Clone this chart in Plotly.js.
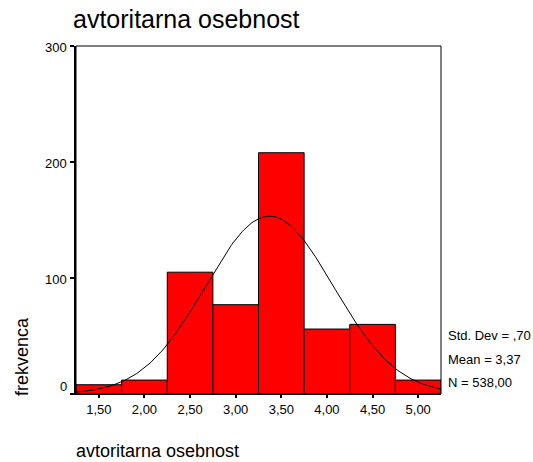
<!DOCTYPE html>
<html>
<head>
<meta charset="utf-8">
<script src="https://cdn.plot.ly/plotly-3.0.1.min.js"></script>
<style>html,body{margin:0;padding:0;background:#fff;}#chart{width:533px;height:462px;}</style>
</head>
<body>
<div id="chart"></div>
<script>
// Data
const binCenters = [1.5, 2.0, 2.5, 3.0, 3.5, 4.0, 4.5, 5.0];
const binCounts  = [8, 12, 105, 77, 208, 56, 60, 12];
const binWidth = 0.5;
const xTickVals = [1.5, 2.0, 2.5, 3.0, 3.5, 4.0, 4.5, 5.0];
const xTickText = ["1,50", "2,00", "2,50", "3,00", "3,50", "4,00", "4,50", "5,00"];
const yTickVals = [0, 100, 200, 300];
const yTickText = ["0", "100", "200", "300"];
const statMean = 3.37;
const statStd = 0.70;
const statN = 538;
const statLabels = ["Std. Dev = ,70", "Mean = 3,37", "N = 538,00"];
const chartTitle = "avtoritarna osebnost";
const xTitle = "avtoritarna osebnost";
const yTitle = "frekvenca";

// Fitted normal curve from the displayed statistics
const curveX = [], curveY = [];
for (let i = 0; i <= 200; i++) {
  const x = 1.25 + i * 0.02;
  const z = (x - statMean) / statStd;
  curveX.push(x);
  curveY.push(statN * binWidth / (statStd * Math.sqrt(2 * Math.PI)) * Math.exp(-0.5 * z * z));
}

const font = "Liberation Sans, Arial, sans-serif";
const traces = [
  {type: 'bar', x: binCenters, y: binCounts, width: binWidth,
   marker: {color: '#ff0000', line: {color: '#000000', width: 1}}, hoverinfo: 'skip'},
  {type: 'scatter', mode: 'lines', x: curveX, y: curveY,
   line: {color: '#000000', width: 1}, hoverinfo: 'skip'}
];

const L = 76, R = 92, T = 46, B = 68, W = 533, H = 462;
const pw = W - L - R, ph = H - T - B;
const annotations = [
  {text: xTitle, xref: 'paper', yref: 'paper', x: (74 - L) / pw, y: -(451 - (H - B)) / ph,
   xanchor: 'left', yanchor: 'middle', showarrow: false, font: {family: font, size: 18, color: '#000'}},
  {text: yTitle, xref: 'paper', yref: 'paper', x: (22 - L) / pw, y: 1 - (357 - T) / ph,
   xanchor: 'center', yanchor: 'middle', textangle: -90, showarrow: false, font: {family: font, size: 18, color: '#000'}}
];
const statY = [335, 359, 382];
statLabels.forEach((s, i) => annotations.push({
  text: s, xref: 'paper', yref: 'paper', x: (446 - L) / pw, y: 1 - (statY[i] - T) / ph,
  xanchor: 'left', yanchor: 'middle', showarrow: false, font: {family: font, size: 13, color: '#000'}
}));
// y tick labels (the zero label sits slightly above its tick, as in the reference)
yTickVals.forEach((v, i) => annotations.push({
  text: yTickText[i], xref: 'paper', yref: 'y', x: 0, y: v, xanchor: 'right', yanchor: 'middle',
  xshift: -7, yshift: v === 0 ? 8 : -1, showarrow: false, font: {family: font, size: 13, color: '#000'}
}));

const layout = {
  width: W, height: H,
  margin: {l: L, r: R, t: T, b: B},
  paper_bgcolor: '#ffffff', plot_bgcolor: '#ffffff',
  showlegend: false, bargap: 0,
  font: {family: font, size: 13, color: '#000'},
  title: {text: chartTitle, x: 73 / W, xanchor: 'left', xref: 'container',
          y: 1 - 19 / H, yanchor: 'middle', yref: 'container',
          font: {family: font, size: 25, color: '#000'}},
  xaxis: {range: [1.25, 5.25], tickvals: xTickVals, ticktext: xTickText,
          ticks: 'outside', ticklen: 3, tickwidth: 2, tickcolor: '#000',
          showline: true, linecolor: '#000', linewidth: 1, showgrid: false, zeroline: false,
          tickfont: {family: font, size: 13, color: '#000'}, fixedrange: true},
  yaxis: {range: [0, 300], tickvals: yTickVals, showticklabels: false,
          ticks: 'outside', ticklen: 4, tickwidth: 2, tickcolor: '#000',
          showline: true, linecolor: '#000', linewidth: 2, showgrid: false, zeroline: false,
          fixedrange: true},
  shapes: [{type: 'rect', xref: 'paper', yref: 'paper', x0: 0, x1: 1, y0: 0, y1: 1,
            line: {color: '#000', width: 1}, layer: 'above'}],
  annotations: annotations
};

Plotly.newPlot('chart', traces, layout, {displayModeBar: false, staticPlot: true});
</script>
</body>
</html>
